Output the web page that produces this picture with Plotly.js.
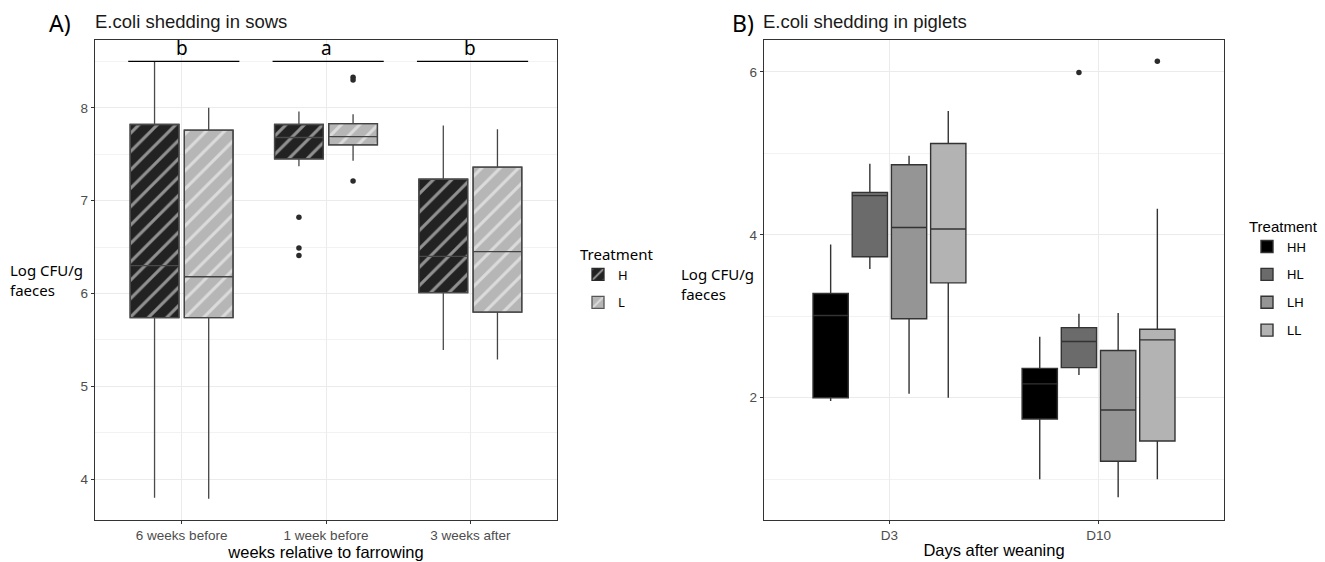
<!DOCTYPE html>
<html><head><meta charset="utf-8">
<script src="https://cdn.plot.ly/plotly-3.0.1.min.js"></script>
<style>html,body{margin:0;padding:0;background:#fff}#chart{width:1325px;height:562px}</style>
</head><body><div id="chart"></div>
<script>
// ---------- Panel A: sows ----------
const sowWeeks = ['6 weeks before', '1 week before', '3 weeks after'];
const sowH_lower  = [3.80, 7.37, 5.39];
const sowH_q1     = [5.74, 7.45, 6.01];
const sowH_median = [6.30, 7.68, 6.40];
const sowH_q3     = [7.82, 7.82, 7.23];
const sowH_upper  = [8.50, 7.96, 7.81];
const sowH_outX = ['1 week before', '1 week before', '1 week before'];
const sowH_outY = [6.82, 6.49, 6.41];
const sowL_lower  = [3.79, 7.43, 5.29];
const sowL_q1     = [5.74, 7.60, 5.80];
const sowL_median = [6.18, 7.69, 6.45];
const sowL_q3     = [7.76, 7.83, 7.36];
const sowL_upper  = [8.00, 7.93, 7.77];
const sowL_outX = ['1 week before', '1 week before', '1 week before'];
const sowL_outY = [8.33, 8.30, 7.21];
const sigLetters = ['b', 'a', 'b'];
const sigLevel = 8.5;

// ---------- Panel B: piglets ----------
const pigDays = ['D3', 'D10'];
const HH_lower = [1.96, 1.00], HH_q1 = [2.00, 1.74], HH_median = [3.01, 2.17], HH_q3 = [3.28, 2.36], HH_upper = [3.88, 2.75];
const HL_lower = [3.58, 2.28], HL_q1 = [3.73, 2.37], HL_median = [4.48, 2.69], HL_q3 = [4.52, 2.86], HL_upper = [4.87, 3.03];
const LH_lower = [2.05, 0.78], LH_q1 = [2.97, 1.22], LH_median = [4.09, 1.85], LH_q3 = [4.86, 2.58], LH_upper = [4.97, 3.04];
const LL_lower = [2.00, 1.00], LL_q1 = [3.41, 1.47], LL_median = [4.07, 2.71], LL_q3 = [5.12, 2.84], LL_upper = [5.52, 4.32];
const HH_outX = ['D10'], HH_outY = [null];
const HL_outX = ['D10'], HL_outY = [5.99];
const LH_outX = ['D10'], LH_outY = [null];
const LL_outX = ['D10'], LL_outY = [6.13];

const W = 1325, H = 562;
const FONT = 'Liberation Sans, Arial, sans-serif';
const CAL = 'Noto Sans, Open Sans, sans-serif';

function hatchBar(name, q1, q3, fill, edge) {
  return {
    type: 'bar', name: name, x: sowWeeks,
    y: q3.map((v, i) => v - q1[i]), base: q1,
    xaxis: 'x', yaxis: 'y', legend: 'legend', legendgroup: name,
    offsetgroup: name, alignmentgroup: 'A',
    marker: {color: fill, line: {color: edge, width: 1.3},
      pattern: {shape: '/', fgcolor: '#ffffff', size: 13, solidity: 0.24, fillmode: 'overlay'}},
    hoverinfo: 'skip'
  };
}
function sowBox(name, lo, q1, med, q3, up, edge) {
  return {
    type: 'box', name: name, x: sowWeeks,
    q1: q1, median: med, q3: q3, lowerfence: lo, upperfence: up,
    xaxis: 'x', yaxis: 'y', showlegend: false, boxpoints: false,
    offsetgroup: name, alignmentgroup: 'A',
    line: {color: edge, width: 1.3}, fillcolor: 'rgba(0,0,0,0)', whiskerwidth: 0,
    hoverinfo: 'skip'
  };
}
function pigBox(name, lo, q1, med, q3, up, fill) {
  return {
    type: 'box', name: name, x: pigDays,
    q1: q1, median: med, q3: q3, lowerfence: lo, upperfence: up,
    xaxis: 'x2', yaxis: 'y2', legend: 'legend2', legendgroup: name, boxpoints: false,
    offsetgroup: name, alignmentgroup: 'B',
    line: {color: '#333333', width: 1.4}, fillcolor: fill, whiskerwidth: 0,
    hoverinfo: 'skip'
  };
}
function outliers(name, xs, ys, xa, ya, grp) {
  return {
    type: 'scatter', mode: 'markers', name: name, x: xs, y: ys,
    xaxis: xa, yaxis: ya, offsetgroup: name, alignmentgroup: grp, showlegend: false,
    marker: {color: '#2b2b2b', size: 5.5}, hoverinfo: 'skip'
  };
}

const data = [
  hatchBar('H', sowH_q1, sowH_q3, '#222222', '#2a2a2a'),
  hatchBar('L', sowL_q1, sowL_q3, '#b6b6b6', '#555555'),
  sowBox('H', sowH_lower, sowH_q1, sowH_median, sowH_q3, sowH_upper, '#4a4a4a'),
  sowBox('L', sowL_lower, sowL_q1, sowL_median, sowL_q3, sowL_upper, '#444444'),
  pigBox('HH', HH_lower, HH_q1, HH_median, HH_q3, HH_upper, '#000000'),
  pigBox('HL', HL_lower, HL_q1, HL_median, HL_q3, HL_upper, '#6b6b6b'),
  pigBox('LH', LH_lower, LH_q1, LH_median, LH_q3, LH_upper, '#959595'),
  pigBox('LL', LL_lower, LL_q1, LL_median, LL_q3, LL_upper, '#b3b3b3'),
  outliers('H', sowH_outX, sowH_outY, 'x', 'y', 'A'),
  outliers('L', sowL_outX, sowL_outY, 'x', 'y', 'A'),
  outliers('HH', HH_outX, HH_outY, 'x2', 'y2', 'B'),
  outliers('HL', HL_outX, HL_outY, 'x2', 'y2', 'B'),
  outliers('LH', LH_outX, LH_outY, 'x2', 'y2', 'B'),
  outliers('LL', LL_outX, LL_outY, 'x2', 'y2', 'B')
];

const yDom = [1 - 520 / H, 1 - 40 / H];
const axisCommon = {
  showline: true, mirror: true, linecolor: '#333333', linewidth: 1.2,
  ticks: 'outside', ticklen: 3, tickcolor: '#333333',
  tickfont: {family: FONT, size: 13.5, color: '#4d4d4d'},
  showgrid: true, gridcolor: '#ebebeb', gridwidth: 1, zeroline: false, fixedrange: true
};

const annotations = [
  {text: 'A)', x: 47 / W, y: 1 - 23 / H, xref: 'paper', yref: 'paper', xanchor: 'left', yanchor: 'middle', showarrow: false, font: {family: CAL, size: 23, color: '#000'}},
  {text: 'E.coli shedding in sows', x: 93 / W, y: 1 - 21 / H, xref: 'paper', yref: 'paper', xanchor: 'left', yanchor: 'middle', showarrow: false, font: {family: FONT, size: 18.5, color: '#1a1a1a'}},
  {text: 'B)', x: 730 / W, y: 1 - 23 / H, xref: 'paper', yref: 'paper', xanchor: 'left', yanchor: 'middle', showarrow: false, font: {family: CAL, size: 23, color: '#000'}},
  {text: 'E.coli shedding in piglets', x: 761 / W, y: 1 - 21 / H, xref: 'paper', yref: 'paper', xanchor: 'left', yanchor: 'middle', showarrow: false, font: {family: FONT, size: 18.5, color: '#1a1a1a'}},
  {text: 'Log CFU/g<br>faeces', x: 8 / W, y: 1 - 280 / H, xref: 'paper', yref: 'paper', xanchor: 'left', yanchor: 'middle', align: 'left', showarrow: false, font: {family: CAL, size: 15, color: '#000'}},
  {text: 'Log CFU/g<br>faeces', x: 679 / W, y: 1 - 284 / H, xref: 'paper', yref: 'paper', xanchor: 'left', yanchor: 'middle', align: 'left', showarrow: false, font: {family: CAL, size: 15, color: '#000'}}
];
const shapes = [];
sigLetters.forEach((t, i) => {
  annotations.push({text: t, x: i, y: sigLevel, xref: 'x', yref: 'y', yanchor: 'bottom', yshift: -2, showarrow: false, font: {family: CAL, size: 19, color: '#000'}});
  shapes.push({type: 'line', xref: 'x', yref: 'y', x0: i - 0.37, x1: i + 0.4, y0: sigLevel, y1: sigLevel, line: {color: '#000', width: 1.3}});
});

const layout = {
  width: W, height: H, margin: {l: 0, r: 0, t: 0, b: 0},
  paper_bgcolor: '#ffffff', plot_bgcolor: '#ffffff',
  font: {family: FONT, color: '#000'},
  barmode: 'group', bargap: 0.25, bargroupgap: 0.1,
  boxmode: 'group', boxgap: 0.25, boxgroupgap: 0.1,
  scattermode: 'group', scattergap: 0.25,
  xaxis: Object.assign({}, axisCommon, {
    domain: [95 / W, 557 / W], anchor: 'y', type: 'category', range: [-0.6, 2.6],
    categoryorder: 'array', categoryarray: sowWeeks,
    title: {text: 'weeks relative to farrowing', font: {family: FONT, size: 16.5, color: '#000'}, standoff: 2}
  }),
  yaxis: Object.assign({}, axisCommon, {
    domain: yDom, anchor: 'x', range: [3.56, 8.73], dtick: 1, tick0: 0,
    minor: {dtick: 0.5, showgrid: true, gridcolor: '#f2f2f2', gridwidth: 1}
  }),
  xaxis2: Object.assign({}, axisCommon, {
    domain: [764 / W, 1224 / W], anchor: 'y2', type: 'category', range: [-0.6, 1.6],
    categoryorder: 'array', categoryarray: pigDays,
    title: {text: 'Days after weaning', font: {family: FONT, size: 16.5, color: '#000'}, standoff: 2}
  }),
  yaxis2: Object.assign({}, axisCommon, {
    domain: yDom, anchor: 'x2', range: [0.50, 6.39], dtick: 2, tick0: 0,
    minor: {dtick: 1, showgrid: true, gridcolor: '#f2f2f2', gridwidth: 1}
  }),
  legend: {x: 578 / W, xanchor: 'left', y: 1 - 240 / H, yanchor: 'top', bgcolor: 'rgba(0,0,0,0)',
    title: {text: 'Treatment', font: {family: CAL, size: 15, color: '#000'}},
    font: {family: CAL, size: 13, color: '#000'}, tracegroupgap: 8},
  legend2: {x: 1247 / W, xanchor: 'left', y: 1 - 212 / H, yanchor: 'top', bgcolor: 'rgba(0,0,0,0)',
    title: {text: 'Treatment', font: {family: FONT, size: 15, color: '#000'}},
    font: {family: FONT, size: 13, color: '#000'}, tracegroupgap: 8},
  annotations: annotations, shapes: shapes
};

Plotly.newPlot('chart', data, layout, {displayModeBar: false, staticPlot: true});
</script>
</body></html>
